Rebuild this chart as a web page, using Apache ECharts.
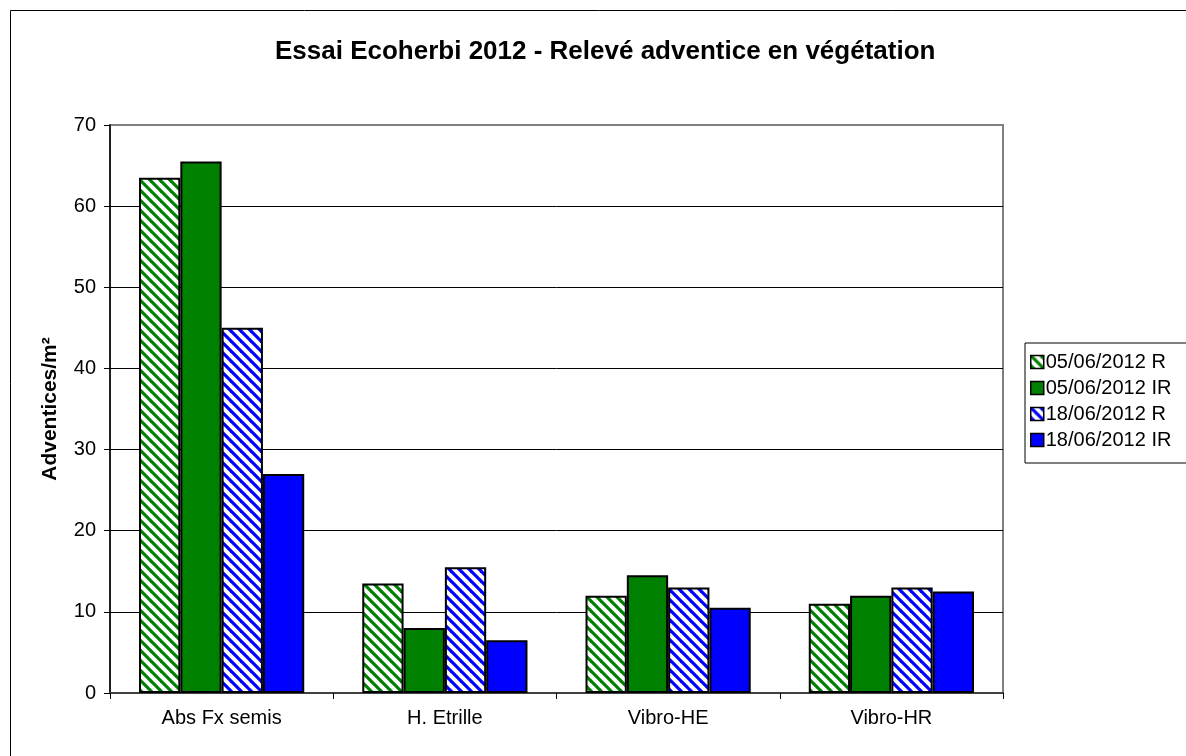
<!DOCTYPE html>
<html>
<head>
<meta charset="utf-8">
<script src="https://cdn.jsdelivr.net/npm/echarts@6/dist/echarts.min.js"></script>
<style>
html,body{margin:0;padding:0;background:#fff;}
#chart{width:1186px;height:756px;}
</style>
</head>
<body>
<div id="chart"></div>
<script>
const categories = ['Abs Fx semis', 'H. Etrille', 'Vibro-HE', 'Vibro-HR'];
const seriesNames = ['05/06/2012 R', '05/06/2012 IR', '18/06/2012 R', '18/06/2012 IR'];
const r0506 = [63.5, 13.5, 12, 11];
const ir0506 = [65.5, 8, 14.5, 12];
const r1806 = [45, 15.5, 13, 13];
const ir1806 = [27, 6.5, 10.5, 12.5];
const yTicks = [0, 10, 20, 30, 40, 50, 60, 70];

const GREEN = '#008000';
const BLUE = '#0000ff';

function hatch(color) {
  const s = 10;
  const c = document.createElement('canvas');
  c.width = s; c.height = s;
  const ctx = c.getContext('2d');
  ctx.fillStyle = '#fff';
  ctx.fillRect(0, 0, s, s);
  ctx.strokeStyle = color;
  ctx.lineWidth = 3.2;
  for (let k = -1; k <= 1; k++) {
    ctx.beginPath();
    ctx.moveTo(k * s - 2, -2);
    ctx.lineTo(k * s + s + 2, s + 2);
    ctx.stroke();
  }
  return { image: c, repeat: 'repeat' };
}

const chart = echarts.init(document.getElementById('chart'), null, { renderer: 'canvas' });
const font = '"Liberation Sans", Arial, sans-serif';

function bar(name, data, color) {
  return {
    name: name,
    type: 'bar',
    data: data,
    barGap: '0%',
    barCategoryGap: '26%',
    itemStyle: { color: color, borderColor: '#000', borderWidth: 2 },
    emphasis: { disabled: true }
  };
}

chart.setOption({
  animation: false,
  backgroundColor: '#fff',
  textStyle: { fontFamily: font },
  title: {
    text: 'Essai Ecoherbi 2012 - Relevé adventice en végétation',
    left: 270,
    top: 34,
    textStyle: { fontFamily: font, fontSize: 26, fontWeight: 'bold', color: '#000' }
  },
  graphic: [{
    type: 'rect',
    shape: { x: 10.5, y: 10.5, width: 1200, height: 800 },
    style: { fill: 'none', stroke: '#000', lineWidth: 1 },
    silent: true, z: -1
  }],
  legend: {
    orient: 'vertical',
    left: 1025,
    top: 343,
    data: seriesNames.map(n => ({ name: n, icon: 'rect' })),
    itemWidth: 13,
    itemHeight: 13,
    itemGap: 6,
    padding: [9, 40, 13, 5],
    borderColor: '#000',
    borderWidth: 1,
    backgroundColor: '#fff',
    textStyle: { fontFamily: font, fontSize: 20, color: '#000', padding: [0, 0, 0, -3] },
    itemStyle: { borderColor: '#000', borderWidth: 1.5 }
  },
  grid: {
    left: 110, right: 183, top: 125, bottom: 63,
    show: true, borderColor: '#808080', borderWidth: 2, backgroundColor: 'transparent'
  },
  xAxis: {
    type: 'category',
    data: categories,
    axisLine: { lineStyle: { color: '#404040', width: 2 } },
    axisTick: { show: true, length: 6, lineStyle: { color: '#000' } },
    axisLabel: { fontFamily: font, fontSize: 20, color: '#000', margin: 15 }
  },
  yAxis: {
    type: 'value',
    min: 0, max: 70, interval: 10,
    name: 'Adventices/m²',
    nameLocation: 'middle',
    nameGap: 49,
    nameTextStyle: { fontFamily: font, fontSize: 21, fontWeight: 'bold', color: '#000' },
    axisLine: { show: true, lineStyle: { color: '#000', width: 1.5 } },
    axisTick: { show: true, length: 6, lineStyle: { color: '#000' } },
    axisLabel: {
      fontFamily: font, fontSize: 20, color: '#000', margin: 14,
      formatter: function (v) { return yTicks.indexOf(v) >= 0 ? String(v) : ''; }
    },
    splitLine: { show: true, showMaxLine: false, showMinLine: false, lineStyle: { color: '#000', width: 1 } }
  },
  series: [
    bar(seriesNames[0], r0506, hatch(GREEN)),
    bar(seriesNames[1], ir0506, GREEN),
    bar(seriesNames[2], r1806, hatch(BLUE)),
    bar(seriesNames[3], ir1806, BLUE)
  ]
});
</script>
</body>
</html>
